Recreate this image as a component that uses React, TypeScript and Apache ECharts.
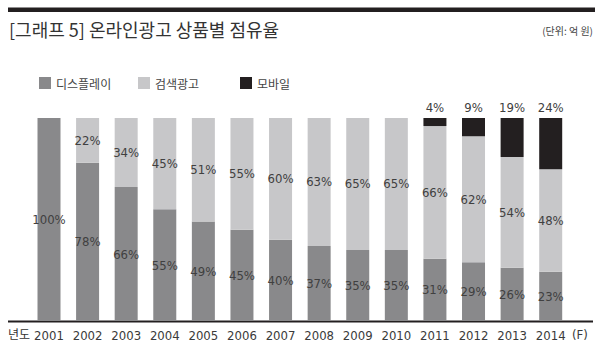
import React, { useEffect, useRef } from "react";
import * as echarts from "echarts";

const years = ["2001", "2002", "2003", "2004", "2005", "2006", "2007", "2008", "2009", "2010", "2011", "2012", "2013", "2014"];
const displayShare = [100, 78, 66, 55, 49, 45, 40, 37, 35, 35, 31, 29, 26, 23];
const searchShare = [0, 22, 34, 45, 51, 55, 60, 63, 65, 65, 66, 62, 54, 48];
const mobileShare = [0, 0, 0, 0, 0, 0, 0, 0, 0, 0, 4, 9, 19, 24];
const seriesNames = ["디스플레이", "검색광고", "모바일"];
const seriesColors = ["#89898b", "#c7c7c9", "#231f20"];

const NUM_FONT = "'Liberation Sans Narrow', 'DejaVu Sans Condensed', Roboto, sans-serif";
const KR_FONT = "'Noto Sans CJK KR', 'Noto Sans', sans-serif";

export default function App() {
  const ref = useRef<HTMLDivElement>(null);
  useEffect(() => {
    if (!ref.current) return;
    const chart = echarts.init(ref.current, null, { renderer: "svg" });
    const raw = [displayShare, searchShare, mobileShare];
    const totals = years.map((_, i) => displayShare[i] + searchShare[i] + mobileShare[i]);
    const mkData = (arr: number[]) =>
      arr.map((v, i) => (v > 0 ? { value: (v / totals[i]) * 100, raw: v } : null));

    const series = raw.map((arr, k) => ({
      name: seriesNames[k],
      type: "bar",
      stack: "total",
      barWidth: 23,
      itemStyle: { color: seriesColors[k] },
      data: mkData(arr),
      label: {
        show: true,
        position: k === 2 ? "top" : "inside",
        distance: 4,
        color: "#404040",
        fontFamily: NUM_FONT,
        fontSize: 13,
        formatter: (p: any) => (p.data && p.data.raw ? p.data.raw + "%" : ""),
      },
    }));

    const legendLefts = [39, 138, 240];
    chart.setOption({
      animation: false,
      backgroundColor: "#ffffff",
      grid: { left: 29.7, right: 30, top: 118, height: 203 },
      legend: seriesNames.map((n, k) => ({
        data: [n],
        left: legendLefts[k],
        top: 77,
        padding: 0,
        itemWidth: 12,
        itemHeight: 12,
        itemGap: 0,
        icon: "rect",
        selectedMode: false,
        textStyle: { fontFamily: KR_FONT, fontSize: 12, color: "#444" },
      })),
      xAxis: {
        type: "category",
        data: years,
        axisLine: { show: false },
        axisTick: { show: false },
        axisLabel: { interval: 0, fontFamily: NUM_FONT, fontSize: 13, color: "#3a3a3a", margin: 8 },
      },
      yAxis: { type: "value", min: 0, max: 100, show: false, splitLine: { show: false } },
      graphic: [
        { type: "rect", left: 8, top: 7.5, shape: { width: 587, height: 4.5 }, style: { fill: "#231f20" } },
        {
          type: "text",
          left: 9,
          top: 20,
          style: { text: "[그래프 5] 온라인광고 상품별 점유율", fontFamily: KR_FONT, fontSize: 18, fill: "#333" },
        },
        {
          type: "text",
          right: 7,
          top: 25,
          style: { text: "(단위: 억 원)", fontFamily: KR_FONT, fontSize: 10, fill: "#444" },
        },
        {
          type: "line",
          shape: { x1: 8, y1: 321.5, x2: 593, y2: 321.5 },
          style: { stroke: "#231f20", lineWidth: 2 },
        },
        {
          type: "text",
          left: 8,
          top: 327,
          style: { text: "년도", fontFamily: KR_FONT, fontSize: 12, fill: "#333" },
        },
        {
          type: "text",
          left: 572,
          top: 328,
          style: { text: "(F)", fontFamily: NUM_FONT, fontSize: 13, fill: "#3a3a3a" },
        },
      ],
      series,
    });
    return () => chart.dispose();
  }, []);
  return <div ref={ref} style={{ position: "fixed", left: 0, top: 0, width: 600, height: 353 }} />;
}
